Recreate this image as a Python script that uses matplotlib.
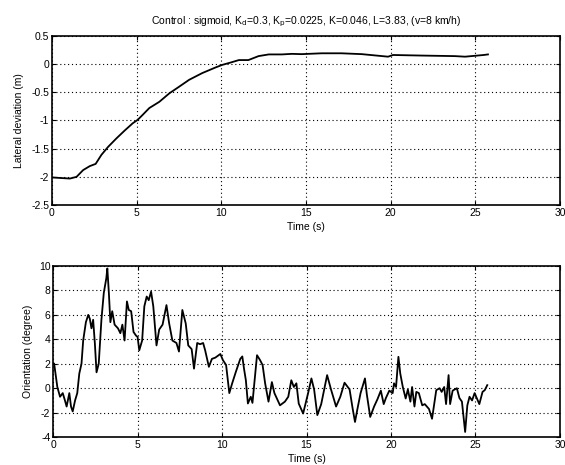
import numpy as np
import matplotlib
matplotlib.use('Agg')
import matplotlib.pyplot as plt
from matplotlib.ticker import FuncFormatter

# lateral deviation (m)
t_lat = [0.0, 0.5, 1.06, 1.45, 1.84, 2.23, 2.58, 2.92, 3.31, 3.8, 4.29, 4.77,
         5.06, 5.36, 5.75, 6.34, 6.93, 7.52, 8.1, 8.88, 9.67, 10.06, 10.55,
         11.04, 11.6, 12.2, 12.8, 13.58, 14.17, 14.75, 15.93, 17.1, 18.3,
         19.85, 20.14, 21.8, 23.8, 24.4, 25.5, 25.75]
lat = [-2.01, -2.02, -2.03, -2.0, -1.88, -1.81, -1.77, -1.61, -1.47, -1.32,
       -1.18, -1.05, -0.99, -0.9, -0.78, -0.67, -0.52, -0.4, -0.28, -0.16,
       -0.06, -0.015, 0.026, 0.07, 0.07, 0.14, 0.17, 0.17, 0.18, 0.175, 0.19,
       0.19, 0.175, 0.13, 0.16, 0.15, 0.14, 0.13, 0.16, 0.17]

# orientation (degree)
t_ori = [0.0, 0.06, 0.25, 0.41, 0.57, 0.7, 0.8, 0.96, 1.06, 1.16, 1.3, 1.43,
         1.55, 1.68, 1.78, 1.94, 2.08, 2.17, 2.27, 2.37, 2.47, 2.57, 2.7,
         2.86, 3.0, 3.15, 3.21, 3.3, 3.39, 3.5, 3.64, 3.84, 3.98, 4.1, 4.23,
         4.37, 4.48, 4.62, 4.76, 4.91, 5.0, 5.1, 5.27, 5.4, 5.54, 5.66, 5.8,
         5.93, 6.12, 6.28, 6.48, 6.71, 6.87, 7.06, 7.3, 7.45, 7.65, 7.85, 8.0,
         8.2, 8.34, 8.53, 8.7, 8.88, 9.0, 9.22, 9.4, 9.6, 9.9, 10.05, 10.24,
         10.43, 10.6, 10.82, 11.08, 11.2, 11.3, 11.41, 11.53, 11.7, 11.8,
         12.07, 12.25, 12.4, 12.55, 12.75, 12.95, 13.1, 13.43, 13.72, 13.92,
         14.1, 14.25, 14.4, 14.54, 14.8, 15.09, 15.29, 15.45, 15.64, 15.87,
         16.22, 16.45, 16.75, 17.0, 17.25, 17.55, 17.73, 17.87, 18.0, 18.2,
         18.46, 18.57, 18.77, 19.0, 19.2, 19.4, 19.57, 19.7, 19.9, 20.1,
         20.18, 20.3, 20.44, 20.55, 20.7, 20.87, 21.0, 21.15, 21.25, 21.39,
         21.5, 21.65, 21.85, 22.0, 22.25, 22.43, 22.55, 22.68, 22.88, 23.0,
         23.15, 23.26, 23.41, 23.5, 23.65, 23.9, 24.05, 24.2, 24.39, 24.52,
         24.65, 24.8, 24.95, 25.23, 25.42, 25.55, 25.7]
ori = [2.0, 2.02, 0.1, -0.7, -0.4, -1.0, -1.5, -0.4, -1.5, -1.9, -1.0, -0.4,
       1.2, 2.0, 3.9, 5.4, 6.0, 5.7, 4.9, 5.6, 3.7, 1.3, 2.0, 5.6, 7.8, 9.0,
       9.8, 7.8, 5.4, 6.3, 5.2, 4.9, 4.5, 5.2, 3.9, 7.1, 6.4, 6.3, 4.6, 4.3,
       4.2, 3.1, 3.9, 6.7, 7.5, 7.2, 7.9, 6.7, 3.5, 4.8, 5.2, 6.8, 5.3, 3.9,
       3.7, 3.0, 6.4, 5.3, 3.5, 3.2, 1.6, 3.7, 3.6, 3.7, 3.1, 1.75, 2.4, 2.5,
       2.8, 2.3, 1.9, -0.4, 0.4, 1.35, 2.4, 2.6, 1.6, 0.65, -1.25, -0.7, -1.2,
       2.7, 2.3, 1.9, 0.4, -1.1, 0.5, -0.4, -1.4, -1.1, -0.7, 0.65, 0.1, 0.4,
       -1.26, -2.07, -0.43, 0.8, -0.1, -2.2, -1.3, 1.07, -0.1, -1.5, -0.7,
       0.45, -0.1, -1.66, -2.76, -1.8, -0.4, 0.8, -0.5, -2.35, -1.5, -0.9,
       -0.2, -1.3, -0.8, -0.2, -0.4, 0.4, 0.1, 2.57, 1.2, 0.1, -0.84, -0.1,
       -1.1, 0.1, -1.5, -0.3, -0.4, -1.4, -1.3, -1.7, -2.5, -1.4, -0.16, 0.0,
       -0.3, 0.1, -1.3, 1.07, -1.3, -0.2, 0.0, -0.8, -1.1, -3.58, -1.4, -0.7,
       -1.0, -0.4, -1.3, -0.3, -0.16, 0.25]

x_ticks = [0, 5, 10, 15, 20, 25, 30]
lat_ticks = [0.5, 0, -0.5, -1, -1.5, -2, -2.5]
ori_ticks = [10, 8, 6, 4, 2, 0, -4, -2]

plt.rcParams['font.family'] = ['Liberation Sans', 'DejaVu Sans']
plt.rcParams['font.size'] = 7.5

fig = plt.figure(figsize=(5.65, 4.65), dpi=100)
ax1 = fig.add_axes([0.092, 0.559, 0.899, 0.364])
ax2 = fig.add_axes([0.094, 0.060, 0.897, 0.368])

fmt = FuncFormatter(lambda v, p: '%g' % v)


def style(ax):
    ax.set_xlim(0, 30)
    ax.set_xticks(x_ticks)
    ax.xaxis.set_major_formatter(fmt)
    ax.yaxis.set_major_formatter(fmt)
    ax.tick_params(direction='in', top=True, right=True, length=3,
                   width=0.8, pad=2, labelsize=7.5)
    ax.grid(True, color='black', linestyle=(0, (1, 2.5)), linewidth=0.8)
    for s in ax.spines.values():
        s.set_linewidth(1.2)
    ax.set_xlabel('Time (s)', labelpad=3)


ax1.plot(t_lat, lat, color='black', linewidth=1.3)
ax1.set_ylim(-2.5, 0.5)
ax1.set_yticks(lat_ticks)
style(ax1)
ax1.set_ylabel('Lateral deviation (m)', labelpad=5)
ax1.set_title(r'Control : sigmoid, K$_\mathrm{d}$=0.3, K$_\mathrm{p}$=0.0225, '
              r'K=0.046, L=3.83, (v=8 km/h)', fontsize=7.5, pad=8)

ax2.plot(t_ori, ori, color='black', linewidth=1.3)
ax2.set_ylim(-4, 10)
ax2.set_yticks(ori_ticks)
style(ax2)
ax2.set_ylabel('Orientation (degree)', labelpad=4)

fig.savefig('out.png', dpi=100)
